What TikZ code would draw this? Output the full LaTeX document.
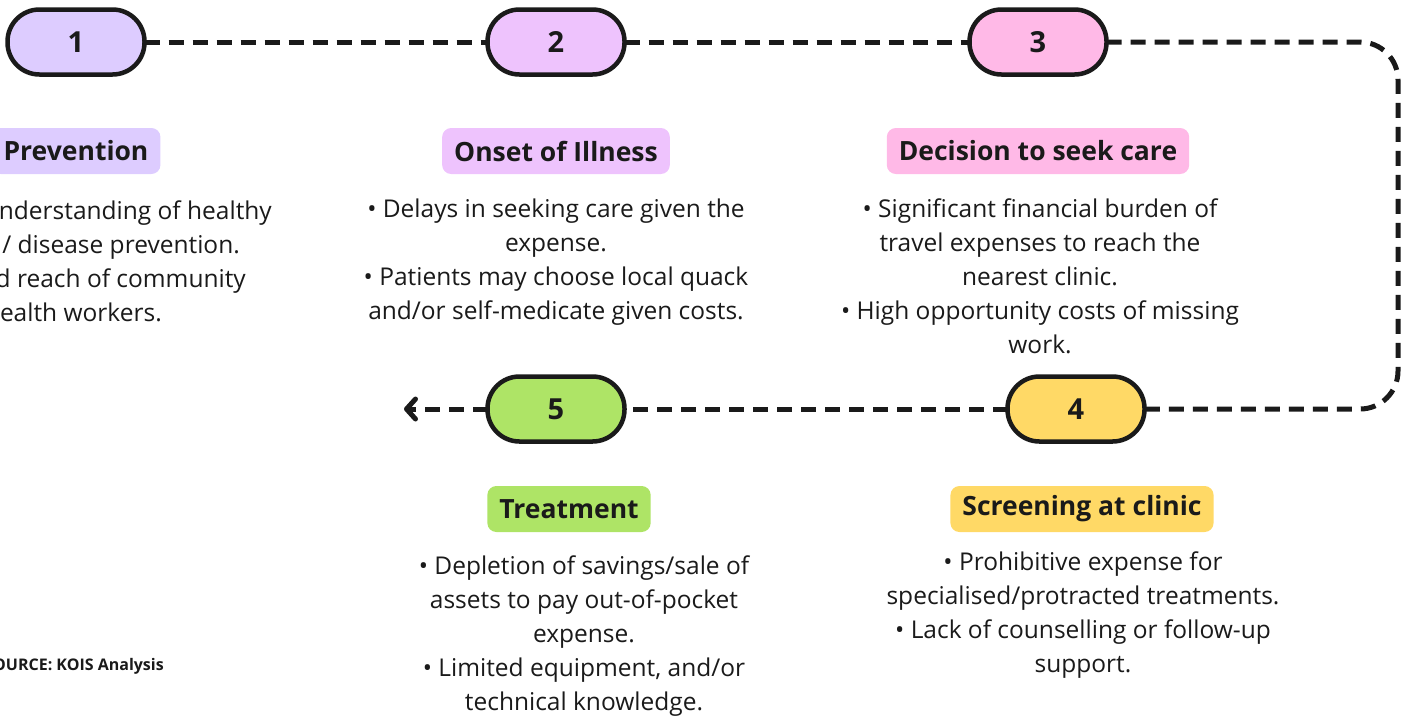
\documentclass[tikz,border=0pt]{standalone}
\usepackage{fontspec}
\setmainfont{Open Sans}
\usetikzlibrary{arrows.meta}

\definecolor{ink}{HTML}{1A1A1A}
\definecolor{lavender}{HTML}{DDCCFF}
\definecolor{orchid}{HTML}{EEC3FD}
\definecolor{blush}{HTML}{FFB9E7}
\definecolor{butter}{HTML}{FFD966}
\definecolor{lime}{HTML}{AEE466}

\tikzset{
  stage/.style={draw=ink, line width=4.5pt, fill=#1, rounded corners=32pt,
    minimum width=137pt, minimum height=65pt, outer sep=0pt, text=ink,
    font=\fontsize{29}{30}\selectfont\bfseries},
  heading/.style={fill=#1, rounded corners=9pt, minimum height=46pt,
    inner xsep=12pt, text=ink, font=\fontsize{26.5}{28}\selectfont\bfseries},
  body/.style={align=center, inner sep=0pt, text=ink,
    font=\fontsize{24.5}{34}\selectfont},
  flow/.style={draw=ink, line width=5pt, dash pattern=on 15pt off 9pt},
}

\begin{document}
\begin{tikzpicture}[x=1pt, y=-1pt]
  \useasboundingbox (0,0) rectangle (1407,724);

  % stage pills
  \node[stage=lavender] (s1) at (76,42)   {1};
  \node[stage=orchid]   (s2) at (556,42)  {2};
  \node[stage=blush]    (s3) at (1038,42) {3};
  \node[stage=butter]   (s4) at (1076,409) {4};
  \node[stage=lime]     (s5) at (556,409) {5};

  % dashed path between the stages
  \coordinate (ne) at (1398,42);
  \coordinate (se) at (1398,409);
  \coordinate (tip) at (404,409);
  \draw[flow] (s1.east) -- (s2.west);
  \draw[flow] (s2.east) -- (s3.west);
  \draw[flow, rounded corners=38pt] (s3.east) -- (ne) -- (se) -- (s4.east);
  \draw[flow] (s4.west) -- (s5.east);
  \draw[flow, -{Straight Barb[round, length=9pt, width=20pt]}] (s5.west) -- (tip);

  % headings
  \node[heading=lavender] (h1) at (76,151)  {Prevention};
  \node[heading=orchid]   (h2) at (556,151) {Onset of Illness};
  \node[heading=blush]    (h3) at (1038,151) {Decision to seek care};
  \node[heading=butter]   (h4) at (1082,509) {Screening at clinic};
  \node[heading=lime]     (h5) at (569,509) {Treatment};

  % first column runs off the left edge
  \node[body, anchor=base east] (t1a) at (272,219) {nderstanding of healthy};
  \node[body, anchor=base east] (t1b) at (240,253) {/ disease prevention.};
  \node[body, anchor=base east] (t1c) at (246,287) {d reach of community};
  \node[body, anchor=base east] (t1d) at (162,321) {ealth workers.};

  \node[body, anchor=north] (t2) at (556,199)
    {• Delays in seeking care given the\\ expense.\\
     • Patients may choose local quack\\ and/or self-medicate given costs.};
  \node[body, anchor=north] (t3) at (1040,199)
    {• Significant financial burden of\\ travel expenses to reach the\\
     nearest clinic.\\ • High opportunity costs of missing\\ work.};
  \node[body, anchor=north] (t4) at (1083,552)
    {• Prohibitive expense for\\ specialised/protracted treatments.\\
     • Lack of counselling or follow-up\\ support.};
  \node[body, anchor=north] (t5) at (584,556)
    {• Depletion of savings/sale of\\ assets to pay out-of-pocket\\
     expense.\\ • Limited equipment, and/or\\ technical knowledge.};

  \node[anchor=base east, inner sep=0pt, text=ink,
        font=\fontsize{16}{18}\selectfont\bfseries] (src) at (164,670)
    {OURCE: KOIS Analysis};
\end{tikzpicture}
\end{document}
